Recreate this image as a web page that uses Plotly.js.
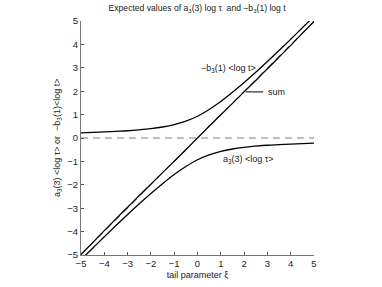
<!DOCTYPE html>
<html>
<head>
<meta charset="utf-8">
<script src="https://cdn.plot.ly/plotly-3.0.1.min.js"></script>
<style>html,body{margin:0;padding:0;background:#fff;}#chart{width:382px;height:287px;}</style>
</head>
<body>
<div id="chart"></div>
<script>
const xi = [-5,-4.5,-4,-3.5,-3,-2.5,-2,-1.5,-1,-0.5,0,0.5,1,1.5,2,2.5,3,3.5,4,4.5,5];
const negB3 = [0.22,0.24,0.26,0.285,0.31,0.35,0.40,0.47,0.57,0.72,0.93,1.22,1.56,1.95,2.37,2.81,3.27,3.74,4.22,4.71,5.20];
const a3 = [-5.20,-4.71,-4.22,-3.74,-3.27,-2.81,-2.37,-1.95,-1.56,-1.22,-0.93,-0.72,-0.57,-0.47,-0.40,-0.35,-0.31,-0.285,-0.26,-0.24,-0.22];
const sumVals = [-4.98,-4.47,-3.96,-3.455,-2.96,-2.46,-1.97,-1.48,-0.99,-0.50,0,0.50,0.99,1.48,1.97,2.46,2.96,3.455,3.96,4.47,4.98];
const zeroX = [-5,5], zeroY = [0,0];
const diagX = [-5,5], diagY = [-5,5];
const xTicks = [-5,-4,-3,-2,-1,0,1,2,3,4,5];
const yTicks = [-5,-4,-3,-2,-1,0,1,2,3,4,5];
const labels = [
  {text:'−b<sub>3</sub>(1) &lt;log t&gt;', x:1.31, y:2.96},
  {text:'sum', x:3.37, y:1.97},
  {text:'a<sub>3</sub>(3) &lt;log τ&gt;', x:2.21, y:-0.93}
];
const sumLeader = {x:[2.07,2.82], y:[1.97,1.97]};
const yTitle = 'a<sub>3</sub>(3) &lt;log τ&gt; or  −b<sub>3</sub>(1)&lt;log t&gt;';

const F = 'Liberation Sans, Arial, Helvetica, sans-serif';
const C = '#222';
const traces = [
  {x:zeroX, y:zeroY, mode:'lines', line:{color:'#808080', width:1, dash:'7px,5px'}, hoverinfo:'skip'},
  {x:diagX, y:diagY, mode:'lines', line:{color:'#808080', width:1, dash:'7px,5px'}, hoverinfo:'skip'},
  {x:xi, y:negB3, mode:'lines', line:{color:'#000', width:1.3, shape:'spline'}},
  {x:xi, y:a3, mode:'lines', line:{color:'#000', width:1.3, shape:'spline'}},
  {x:xi, y:sumVals, mode:'lines', line:{color:'#000', width:1.3, shape:'spline'}},
  {x:sumLeader.x, y:sumLeader.y, mode:'lines', line:{color:'#000', width:1}}
];
const ann = labels.map(l => ({x:l.x, y:l.y, xref:'x', yref:'y', text:l.text, showarrow:false, font:{family:F, size:9, color:C}, xanchor:'center', yanchor:'middle'}));
ann.push({x:-0.103, y:0.5, xref:'paper', yref:'paper', text:yTitle, textangle:-90, showarrow:false, font:{family:F, size:9, color:C}, xanchor:'center', yanchor:'middle'});
const layout = {
  width:382, height:287,
  margin:{l:81, r:68, t:21, b:32},
  paper_bgcolor:'#fff', plot_bgcolor:'#fff',
  showlegend:false,
  font:{family:F, size:9, color:C},
  title:{text:'Expected values of a<sub>3</sub>(3) log τ  and −b<sub>3</sub>(1) log t', font:{family:F, size:8.6, color:C}, x:0.516, xanchor:'center', y:0.972, yanchor:'middle'},
  xaxis:{range:[-5,5], tickvals:xTicks, ticks:'inside', ticklen:3, tickcolor:'#555', showline:true, linecolor:'#777', linewidth:1, showgrid:false, zeroline:false, mirror:false,
    tickfont:{family:F, size:9.5, color:C},
    title:{text:'tail parameter ξ', font:{family:F, size:9, color:C}, standoff:3}},
  yaxis:{range:[-5,5], tickvals:yTicks, ticks:'inside', ticklen:3, tickcolor:'#555', showline:true, linecolor:'#777', linewidth:1, showgrid:false, zeroline:false, mirror:false,
    tickfont:{family:F, size:9.5, color:C}},
  annotations: ann
};
Plotly.newPlot('chart', traces, layout, {displayModeBar:false, staticPlot:true});
</script>
</body>
</html>
